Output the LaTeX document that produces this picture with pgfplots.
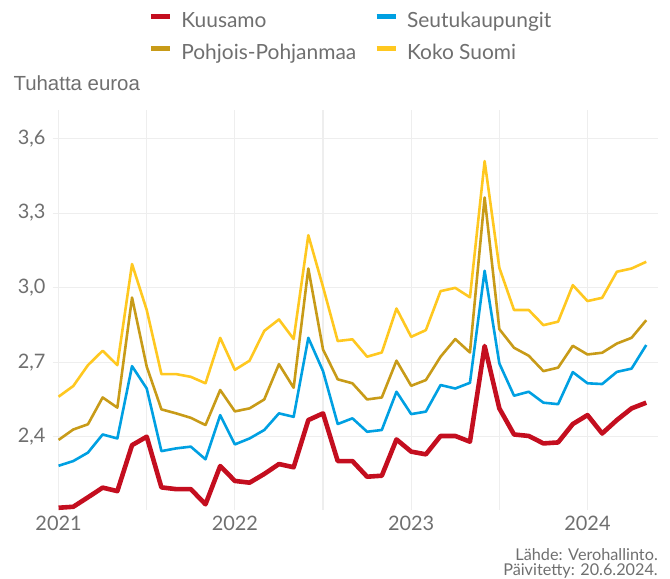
\documentclass[border=0pt]{standalone}
\usepackage{fontspec}
\setmainfont{Lato}
\newfontfamily\arialfont{Liberation Sans}
\usepackage{pgfplots}
\usepackage{pgfplotstable}
\pgfplotsset{compat=1.18}
\definecolor{cKuu}{HTML}{C40E1F}
\definecolor{cSeu}{HTML}{00A0E2}
\definecolor{cPP}{HTML}{C89B18}
\definecolor{cKS}{HTML}{FFC820}
\definecolor{txt}{HTML}{6F6F6F}
\definecolor{grd}{HTML}{EEEEEE}
\pgfplotsset{legend image code/.code={\draw[#1,line width=5bp,line cap=butt] (0bp,5.5bp) -- (19bp,5.5bp);}}

\pgfplotstableread{
m kuu seu pp ks
0 2.114 2.283 2.387 2.561
1 2.118 2.302 2.429 2.604
2 2.156 2.336 2.450 2.688
3 2.195 2.409 2.558 2.746
4 2.181 2.393 2.517 2.688
5 2.366 2.684 2.960 3.095
6 2.400 2.594 2.682 2.910
7 2.196 2.342 2.510 2.652
8 2.189 2.353 2.494 2.652
9 2.189 2.360 2.476 2.641
10 2.128 2.309 2.447 2.615
11 2.282 2.487 2.588 2.798
12 2.222 2.369 2.502 2.669
13 2.215 2.393 2.514 2.706
14 2.250 2.427 2.550 2.826
15 2.290 2.494 2.692 2.872
16 2.277 2.480 2.597 2.793
17 2.467 2.798 3.077 3.211
18 2.494 2.664 2.751 3.003
19 2.302 2.451 2.631 2.785
20 2.302 2.474 2.615 2.792
21 2.239 2.420 2.550 2.722
22 2.243 2.427 2.558 2.739
23 2.389 2.581 2.706 2.916
24 2.340 2.491 2.605 2.802
25 2.329 2.501 2.628 2.829
26 2.403 2.608 2.722 2.986
27 2.403 2.594 2.793 2.999
28 2.380 2.617 2.739 2.961
29 2.765 3.068 3.363 3.509
30 2.514 2.695 2.833 3.080
31 2.409 2.565 2.758 2.910
32 2.403 2.581 2.726 2.910
33 2.373 2.537 2.664 2.849
34 2.377 2.531 2.678 2.863
35 2.451 2.660 2.766 3.010
36 2.487 2.615 2.731 2.946
37 2.413 2.612 2.738 2.959
38 2.467 2.661 2.775 3.064
39 2.514 2.674 2.798 3.077
40 2.537 2.769 2.869 3.104
}\data

\begin{document}
\begin{tikzpicture}
\useasboundingbox (-52.7bp,-69bp) rectangle (617.3bp,510bp);
\begin{axis}[
  scale only axis, width=605.3bp, height=400bp,
  xmin=-0.4, xmax=40.8, ymin=2.105, ymax=3.715,
  axis line style={draw=none}, tick style={draw=none},
  xtick={0,12,24,36}, xticklabels={2021,2022,2023,2024},
  minor xtick={6,18,30},
  ytick={2.4,2.7,3.0,3.3,3.6},
  grid=both,
  major grid style={grd, line width=1.1bp},
  minor grid style={grd, line width=1.1bp},
  ticklabel style={font=\fontsize{20}{24}\selectfont, text=txt},
  /pgf/number format/use comma,
  /pgf/number format/fixed,
  /pgf/number format/fixed zerofill,
  /pgf/number format/precision=1,
  /pgf/number format/assume math mode=true,
  yticklabel style={xshift=-3.7bp},
  xticklabel style={yshift=-2.5bp},
  legend columns=2,
  legend cell align=left,
  legend style={draw=none, fill=none, inner sep=0pt, outer sep=0pt,
    at={(axis description cs:0.158,1.2455)}, anchor=north west,
    font=\fontsize{21}{24}\selectfont, text=txt,
    nodes={inner sep=0pt, text height=15.5bp, text depth=4.5bp},
    row sep=12.7bp,
    /tikz/every odd column/.append style={column sep=9bp},
    /tikz/every even column/.append style={column sep=17.8bp}},
  line join=round,
  clip=false,
]
\addplot[cKuu, line width=4.6bp] table[x=m, y=kuu] {\data};
\addlegendentry{Kuusamo}
\addplot[cSeu, line width=2.6bp] table[x=m, y=seu] {\data};
\addlegendentry{Seutukaupungit}
\addplot[cPP, line width=2.6bp] table[x=m, y=pp] {\data};
\addlegendentry{Pohjois-Pohjanmaa}
\addplot[cKS, line width=2.6bp] table[x=m, y=ks] {\data};
\addlegendentry{Koko Suomi}
\node[anchor=base west, inner sep=0pt, text=txt, font=\arialfont\fontsize{20.5}{24}\selectfont] at (axis description cs:-0.065,1.048) {Tuhatta euroa};
\node[anchor=base east, inner sep=0pt, text=txt, font=\fontsize{16.3}{18}\selectfont] at (axis description cs:1,-0.125) {Lähde: Verohallinto.};
\node[anchor=base east, inner sep=0pt, text=txt, font=\fontsize{16.3}{18}\selectfont] at (axis description cs:1,-0.1625) {Päivitetty: 20.6.2024.};
\end{axis}
\end{tikzpicture}
\end{document}
